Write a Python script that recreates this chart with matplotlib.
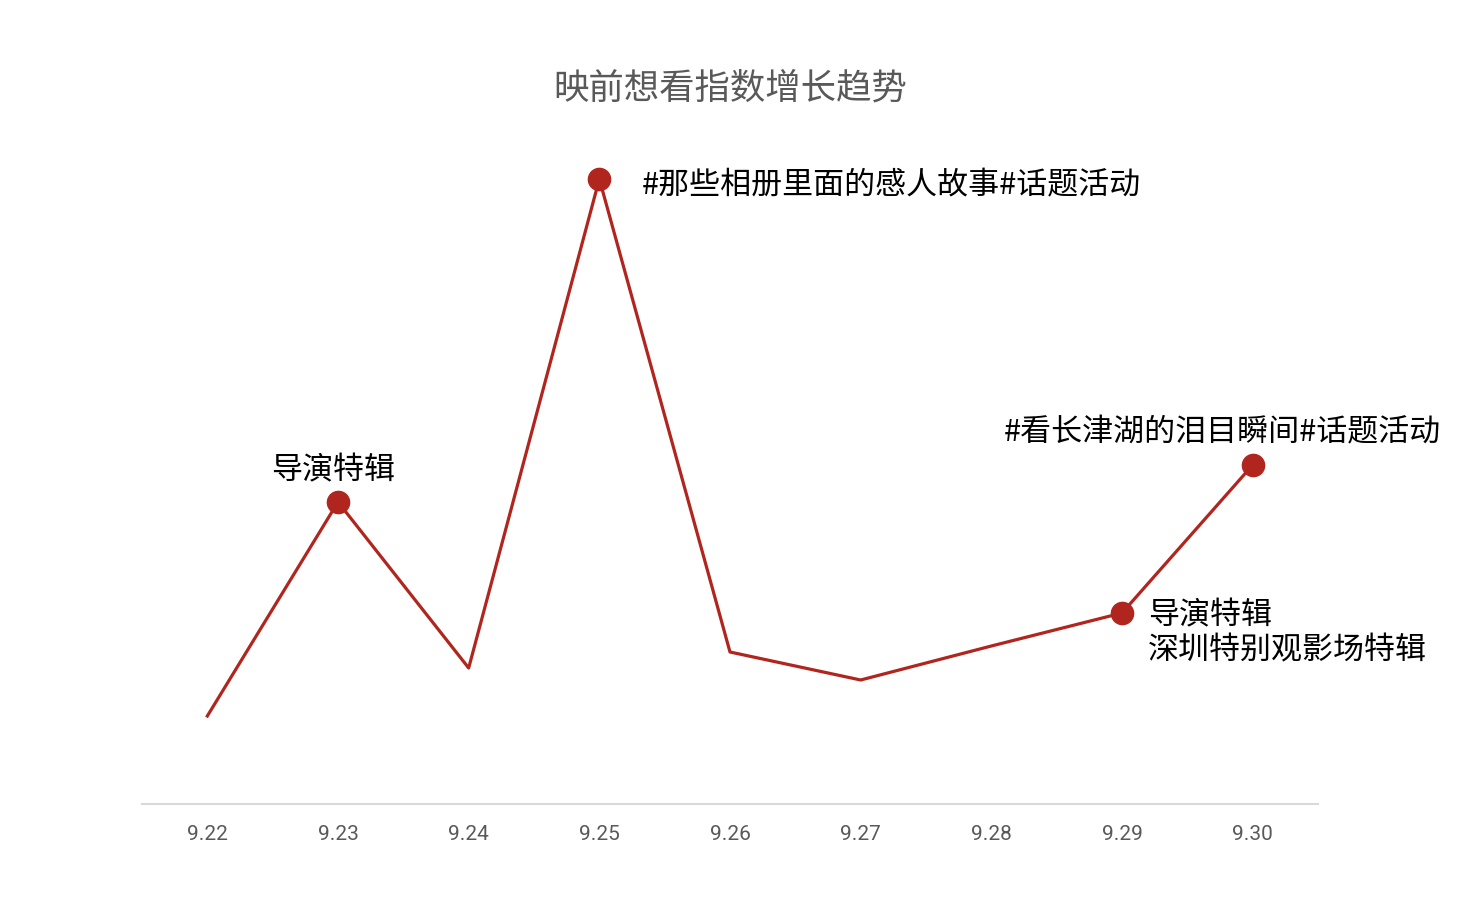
import matplotlib.pyplot as plt
import numpy as np

plt.rcParams['font.family'] = ['Noto Sans CJK SC', 'DejaVu Sans']

dates = ['9.22', '9.23', '9.24', '9.25', '9.26', '9.27', '9.28', '9.29', '9.30']
values = [88, 302, 136, 625, 152, 124, 158, 191, 339]
# index -> (label, offset in pixels, ha, va)
notes = {
    1: ('导演特辑', (-5, 31), 'center', 'center'),
    3: ('#那些相册里面的感人故事#话题活动', (42, -7), 'left', 'center'),
    7: ('导演特辑\n深圳特别观影场特辑', (26, 13), 'left', 'top'),
    8: ('#看长津湖的泪目瞬间#话题活动', (-30, 32), 'center', 'center'),
}

RED = '#B0261E'

fig = plt.figure(figsize=(14.68, 9.14), dpi=100)
ax = fig.add_axes([142 / 1468, 110 / 914, 1176 / 1468, 664 / 914])

x = np.arange(len(dates))
ax.plot(x, values, color=RED, linewidth=2.3, zorder=2)
idx = list(notes.keys())
ax.plot(x[idx], [values[i] for i in idx], 'o', color=RED, markersize=16, zorder=3)

for i, (label, off, ha, va) in notes.items():
    ax.annotate(label, (x[i], values[i]), xytext=off, textcoords='offset pixels',
                ha=ha, va=va, fontsize=22.3, color='black', fontweight='medium',
                linespacing=1.2)

ax.set_xlim(-0.5, len(dates) - 0.5)
ax.set_ylim(0, 664)
ax.set_xticks(x)
ax.set_xticklabels(dates, fontfamily=['Roboto', 'DejaVu Sans'], fontsize=15, color='#595959')
ax.tick_params(axis='x', length=0, pad=15)
ax.set_yticks([])
for s in ['top', 'right', 'left']:
    ax.spines[s].set_visible(False)
ax.spines['bottom'].set_color('#d9d9d9')
ax.spines['bottom'].set_linewidth(1.5)

fig.text(730 / 1468, 1 - 89 / 914, '映前想看指数增长趋势', ha='center', va='center',
         fontsize=25.5, color='#595959')

fig.savefig('out.png', dpi=100)
